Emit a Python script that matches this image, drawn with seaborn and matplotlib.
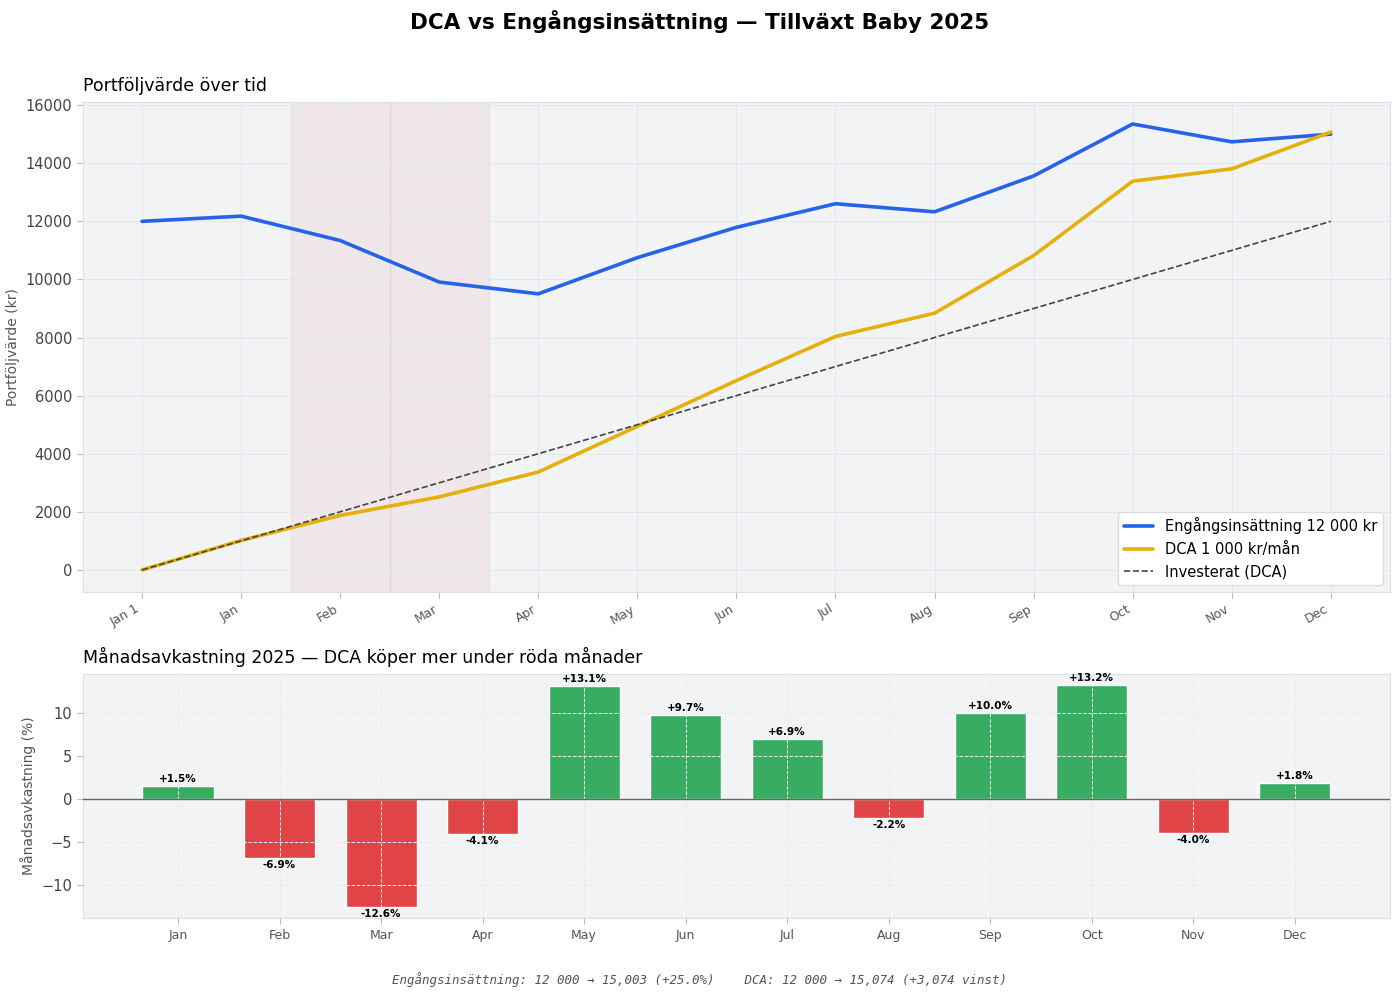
import numpy as np
import pandas as pd
import matplotlib
matplotlib.use("Agg")
import matplotlib.pyplot as plt
import seaborn as sns

# Data
points = ["Jan 1", "Jan", "Feb", "Mar", "Apr", "May", "Jun", "Jul", "Aug", "Sep", "Oct", "Nov", "Dec"]
lump_sum = [12000, 12180, 11340, 9911, 9505, 10750, 11793, 12607, 12329, 13562, 15352, 14738, 15003]
dca = [0, 1015, 1876, 2514, 3370, 4942, 6519, 8037, 8838, 10822, 13382, 13807, 15074]
invested = [0, 1000, 2000, 3000, 4000, 5000, 6000, 7000, 8000, 9000, 10000, 11000, 12000]

months = ["Jan", "Feb", "Mar", "Apr", "May", "Jun", "Jul", "Aug", "Sep", "Oct", "Nov", "Dec"]
returns = [1.5, -6.9, -12.6, -4.1, 13.1, 9.7, 6.9, -2.2, 10.0, 13.2, -4.0, 1.8]

sns.set_style("whitegrid")
plt.rcParams['font.family'] = ['DejaVu Sans']
plt.rcParams['text.color'] = 'black'
plt.rcParams['axes.titlecolor'] = 'black'

bg = "#f1f3f5"
grid_c = "#e4e7eb"
spine_c = "#dcdfe3"
blue = "#2563eb"
gold = "#e5b00b"
green = "#38ad62"
red = "#e04446"

fig = plt.figure(figsize=(14, 9.97), dpi=100)
ax1 = fig.add_axes([0.059, 0.406, 0.934, 0.492])
ax2 = fig.add_axes([0.059, 0.079, 0.934, 0.245])

fig.suptitle("DCA vs Engångsinsättning — Tillväxt Baby 2025", fontsize=15.5,
             fontweight="bold", y=0.99, color="black")

# ---- top: portfolio value
x = np.arange(len(points))
df = pd.DataFrame({"x": x, "lump": lump_sum, "dca": dca, "inv": invested})

ax1.set_facecolor(bg)
# shade the big red months (< -5 %)
for i, r in enumerate(returns):
    if r < -5:
        ax1.axvspan(i + 0.5, i + 1.5, color="#d9534f", alpha=0.07, zorder=0)

sns.lineplot(data=df, x="x", y="lump", ax=ax1, color=blue, linewidth=2.6,
             label="Engångsinsättning 12 000 kr")
sns.lineplot(data=df, x="x", y="dca", ax=ax1, color=gold, linewidth=2.6,
             label="DCA 1 000 kr/mån")
sns.lineplot(data=df, x="x", y="inv", ax=ax1, color="#444444", linewidth=1.2,
             linestyle="--", label="Investerat (DCA)")

ax1.set_xlim(-0.6, 12.6)
ax1.set_xticks(x)
ax1.set_xticklabels(points, rotation=30, ha="right", fontsize=9, color="#555555")
ax1.set_yticks(range(0, 16001, 2000))
ax1.tick_params(axis="y", labelsize=10.5, colors="#444444")
ax1.tick_params(axis="both", length=4, color="#bbbbbb", bottom=True, left=True)
ax1.set_xlabel("")
ax1.set_ylabel("Portföljvärde (kr)", fontsize=10, color="#555555")
ax1.set_title("Portföljvärde över tid", loc="left", fontsize=12.5, pad=8)
ax1.grid(True, color=grid_c, linewidth=0.7)
for s in ax1.spines.values():
    s.set_color(spine_c)
ax1.legend(loc="lower right", fontsize=10.5, frameon=True, facecolor="white",
           edgecolor="#dddddd", framealpha=1, handlelength=2.0)

# ---- bottom: monthly returns
ax2.set_facecolor(bg)
bar_colors = [green if r >= 0 else red for r in returns]
sns.barplot(x=months, y=returns, hue=months, palette=bar_colors, legend=False,
            saturation=1, width=0.7, ax=ax2, zorder=2)
ax2.axhline(0, color="#666666", linewidth=1, zorder=3)
for i, r in enumerate(returns):
    if r >= 0:
        ax2.text(i, r + 0.25, f"+{r:.1f}%", ha="center", va="bottom", fontsize=7.5,
                 fontweight="bold", color="black", zorder=4)
    else:
        ax2.text(i, r - 0.25, f"{r:.1f}%", ha="center", va="top", fontsize=7.5,
                 fontweight="bold", color="black", zorder=4)

ax2.set_xlim(-0.94, 11.94)
ax2.set_ylim(-13.9, 14.5)
ax2.set_yticks([-10, -5, 0, 5, 10])
ax2.set_axisbelow(False)
ax2.grid(True, color="#e8ebef", linewidth=0.7, linestyle="--", zorder=3)
ax2.tick_params(axis="x", labelsize=9, colors="#555555")
ax2.tick_params(axis="y", labelsize=10.5, colors="#444444")
ax2.tick_params(axis="both", length=4, color="#bbbbbb", bottom=True, left=True)
ax2.set_xlabel("")
ax2.set_ylabel("Månadsavkastning (%)", fontsize=10, color="#555555")
ax2.set_title("Månadsavkastning 2025 — DCA köper mer under röda månader", loc="left",
              fontsize=12.5, pad=8)
for s in ax2.spines.values():
    s.set_color(spine_c)

fig.text(0.5, 0.013,
         "Engångsinsättning: 12 000 → 15,003 (+25.0%)    DCA: 12 000 → 15,074 (+3,074 vinst)",
         ha="center", fontsize=9, family="monospace", style="italic", color="#555555")

fig.savefig("out.png", dpi=100)
